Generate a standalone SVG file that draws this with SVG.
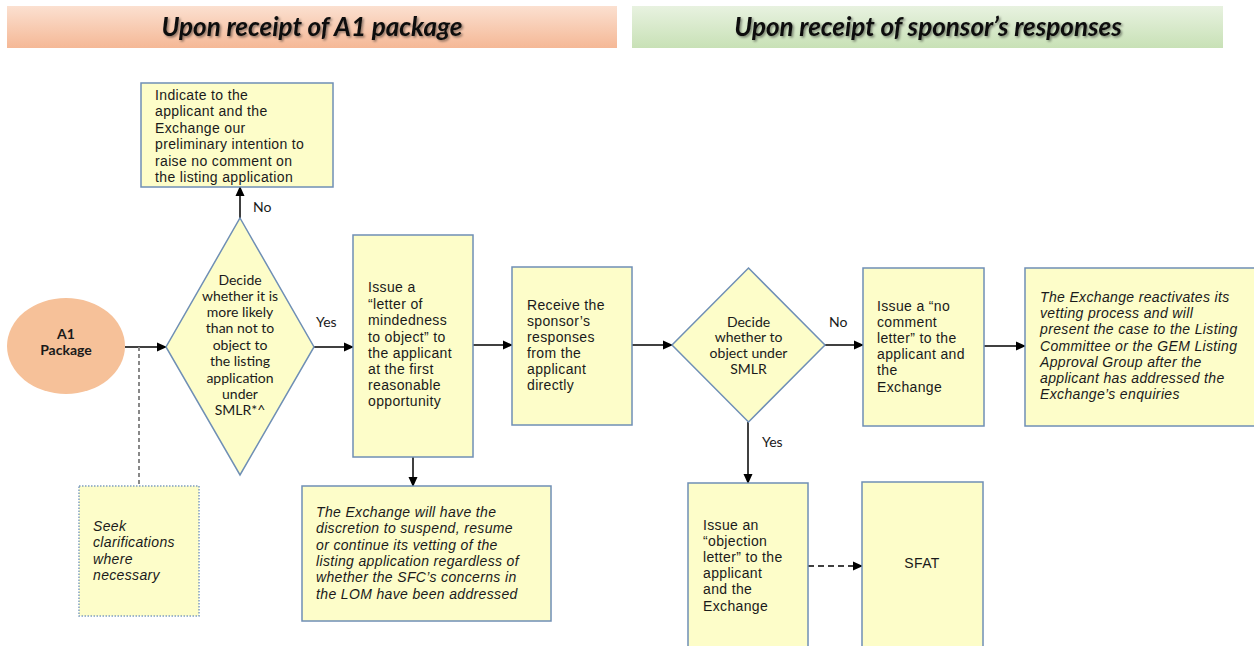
<svg xmlns="http://www.w3.org/2000/svg" width="1254" height="646" viewBox="0 0 1254 646">
<style>
.box{fill:#fdfdc9;stroke:#6f8fb5;stroke-width:1.5}
.dotbox{fill:#fdfdc9;stroke:#7f9fc0;stroke-width:1.5;stroke-dasharray:1.5 1.5}
.t{font-family:"Liberation Sans",Arial,sans-serif;font-size:14px;letter-spacing:0.35px;fill:#1a1a1a}
.ti{font-family:"Liberation Sans",Arial,sans-serif;font-size:14px;letter-spacing:0.35px;font-style:italic;fill:#1a1a1a}
.c{font-family:Lato,"Liberation Sans",sans-serif;font-size:14px;fill:#1a1a1a;text-anchor:middle}
.lbl{font-family:Lato,"Liberation Sans",sans-serif;font-size:14px;fill:#1a1a1a}
.hd{font-family:Lato,"Liberation Sans",sans-serif;font-size:26px;font-weight:bold;font-style:italic;fill:#111;text-anchor:middle}
.ln{stroke:#000;stroke-width:1.5;fill:none}
</style>
<defs>
<linearGradient id="gOr" x1="0" y1="0" x2="0" y2="1">
<stop offset="0" stop-color="#fbe0d0"/>
<stop offset="1" stop-color="#f5b896"/>
</linearGradient>
<linearGradient id="gGr" x1="0" y1="0" x2="0" y2="1">
<stop offset="0" stop-color="#e8f2e0"/>
<stop offset="1" stop-color="#c8e1b6"/>
</linearGradient>
<filter id="sh" x="-10%" y="-30%" width="120%" height="160%">
<feDropShadow dx="1.5" dy="1.5" stdDeviation="1.2" flood-color="#000" flood-opacity="0.45"/>
</filter>
<marker id="ar" markerWidth="10" markerHeight="10" refX="9" refY="5" orient="auto" markerUnits="userSpaceOnUse">
<path d="M0,0.5 L10,5 L0,9.5 Z" fill="#000"/>
</marker>
</defs>
<rect width="1254" height="646" fill="#fff"/>

<g id="header1">
<rect x="7" y="6" width="610" height="42" fill="url(#gOr)"/>
<text class="hd" x="312" y="36" filter="url(#sh)">Upon receipt of A1 package</text>
</g>
<g id="header2">
<rect x="632" y="6" width="591" height="42" fill="url(#gGr)"/>
<text class="hd" x="928" y="36" filter="url(#sh)">Upon receipt of sponsor’s responses</text>
</g>

<g id="connectors">
<line class="ln" x1="125" y1="347" x2="166" y2="347" marker-end="url(#ar)"/>
<line x1="139" y1="347" x2="139" y2="486" stroke="#888" stroke-width="2" stroke-dasharray="4 3"/>
<line class="ln" x1="240" y1="218" x2="240" y2="187" marker-end="url(#ar)"/>
<line class="ln" x1="314" y1="347" x2="353" y2="347" marker-end="url(#ar)"/>
<line class="ln" x1="413" y1="457" x2="413" y2="486" marker-end="url(#ar)"/>
<line class="ln" x1="473" y1="345" x2="512" y2="345" marker-end="url(#ar)"/>
<line class="ln" x1="632" y1="345" x2="672" y2="345" marker-end="url(#ar)"/>
<line class="ln" x1="825" y1="345" x2="863" y2="345" marker-end="url(#ar)"/>
<line class="ln" x1="984" y1="346" x2="1025" y2="346" marker-end="url(#ar)"/>
<line class="ln" x1="748" y1="422" x2="748" y2="483" marker-end="url(#ar)"/>
<line class="ln" x1="808" y1="566" x2="862" y2="566" stroke-dasharray="6 4" marker-end="url(#ar)"/>
<text class="lbl" x="253" y="212">No</text>
<text class="lbl" x="316" y="327">Yes</text>
<text class="lbl" x="829" y="327">No</text>
<text class="lbl" x="762" y="447">Yes</text>
</g>

<g id="a1package">
<ellipse cx="66" cy="346" rx="59" ry="48" fill="#f6c199"/>
<text class="c" x="66" y="339" font-weight="bold" font-size="12.5">A1</text>
<text class="c" x="66" y="355" font-weight="bold" font-size="12.5">Package</text>
</g>

<g id="indicate">
<rect class="box" x="141" y="83" width="192" height="104"/>
<text class="t" x="155" y="100">Indicate to the</text>
<text class="t" x="155" y="116">applicant and the</text>
<text class="t" x="155" y="133">Exchange our</text>
<text class="t" x="155" y="149">preliminary intention to</text>
<text class="t" x="155" y="166">raise no comment on</text>
<text class="t" x="155" y="182">the listing application</text>
</g>

<g id="decide1">
<polygon class="box" points="240,218 314,347 240,475 166,347"/>
<text class="c" x="240" y="285">Decide</text>
<text class="c" x="240" y="301">whether it is</text>
<text class="c" x="240" y="317">more likely</text>
<text class="c" x="240" y="333">than not to</text>
<text class="c" x="240" y="350">object to</text>
<text class="c" x="240" y="366">the listing</text>
<text class="c" x="240" y="383">application</text>
<text class="c" x="240" y="399">under</text>
<text class="c" x="240" y="415">SMLR*^</text>
</g>

<g id="seek">
<rect class="dotbox" x="79" y="486" width="120" height="130"/>
<text class="ti" x="93" y="531">Seek</text>
<text class="ti" x="93" y="547">clarifications</text>
<text class="ti" x="93" y="564">where</text>
<text class="ti" x="93" y="580">necessary</text>
</g>

<g id="lom">
<rect class="box" x="353" y="235" width="120" height="222"/>
<text class="t" x="368" y="292">Issue a</text>
<text class="t" x="368" y="309">“letter of</text>
<text class="t" x="368" y="325">mindedness</text>
<text class="t" x="368" y="342">to object” to</text>
<text class="t" x="368" y="358">the applicant</text>
<text class="t" x="368" y="374">at the first</text>
<text class="t" x="368" y="390">reasonable</text>
<text class="t" x="368" y="406">opportunity</text>
</g>

<g id="discretion">
<rect class="box" x="302" y="486" width="249" height="135"/>
<text class="ti" x="316" y="517">The Exchange will have the</text>
<text class="ti" x="316" y="533">discretion to suspend, resume</text>
<text class="ti" x="316" y="550">or continue its vetting of the</text>
<text class="ti" x="316" y="566" letter-spacing="0.1">listing application regardless of</text>
<text class="ti" x="316" y="582">whether the SFC’s concerns in</text>
<text class="ti" x="316" y="599">the LOM have been addressed</text>
</g>

<g id="receive">
<rect class="box" x="512" y="267" width="120" height="158"/>
<text class="t" x="527" y="310">Receive the</text>
<text class="t" x="527" y="326">sponsor’s</text>
<text class="t" x="527" y="342">responses</text>
<text class="t" x="527" y="358">from the</text>
<text class="t" x="527" y="374">applicant</text>
<text class="t" x="527" y="390">directly</text>
</g>

<g id="decide2">
<polygon class="box" points="748.5,268 825,345 748.5,422 672,345"/>
<text class="c" x="748.5" y="327">Decide</text>
<text class="c" x="748.5" y="342">whether to</text>
<text class="c" x="748.5" y="358">object under</text>
<text class="c" x="748.5" y="374">SMLR</text>
</g>

<g id="nocomment">
<rect class="box" x="863" y="268" width="121" height="158"/>
<text class="t" x="877" y="311">Issue a “no</text>
<text class="t" x="877" y="327">comment</text>
<text class="t" x="877" y="343">letter” to the</text>
<text class="t" x="877" y="359">applicant and</text>
<text class="t" x="877" y="375">the</text>
<text class="t" x="877" y="392">Exchange</text>
</g>

<g id="reactivate">
<rect class="box" x="1025" y="268" width="240" height="158"/>
<text class="ti" x="1040" y="302">The Exchange reactivates its</text>
<text class="ti" x="1040" y="318">vetting process and will</text>
<text class="ti" x="1040" y="334">present the case to the Listing</text>
<text class="ti" x="1040" y="351">Committee or the GEM Listing</text>
<text class="ti" x="1040" y="367">Approval Group after the</text>
<text class="ti" x="1040" y="383">applicant has addressed the</text>
<text class="ti" x="1040" y="399">Exchange’s enquiries</text>
</g>

<g id="objection">
<rect class="box" x="688" y="483" width="120" height="180"/>
<text class="t" x="703" y="530">Issue an</text>
<text class="t" x="703" y="546">“objection</text>
<text class="t" x="703" y="562">letter” to the</text>
<text class="t" x="703" y="578">applicant</text>
<text class="t" x="703" y="594">and the</text>
<text class="t" x="703" y="611">Exchange</text>
</g>

<g id="sfat">
<rect class="box" x="862" y="482" width="121" height="180"/>
<text class="t" x="922" y="568" text-anchor="middle">SFAT</text>
</g>
</svg>
